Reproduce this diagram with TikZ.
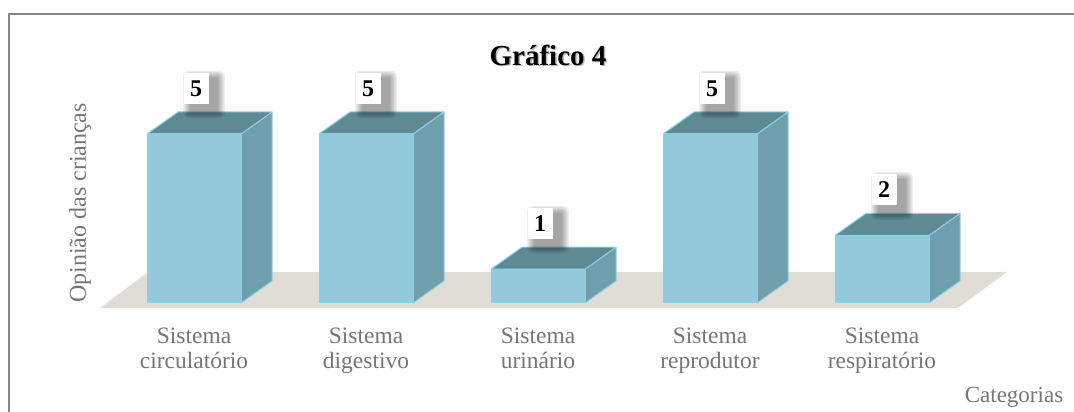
\documentclass[tikz,border=0pt]{standalone}
\usepackage{fontspec}
\setmainfont{Liberation Serif}
\usetikzlibrary{positioning}
\definecolor{barfront}{RGB}{146,202,219}
\definecolor{barside}{RGB}{111,159,173}
\definecolor{bartop}{RGB}{94,138,148}
\definecolor{baredge}{RGB}{140,208,228}
\definecolor{floorgray}{RGB}{224,221,215}
\definecolor{axisgray}{RGB}{118,118,118}
\definecolor{framegray}{RGB}{134,134,134}
\tikzset{
  bar face/.style={draw=baredge, line width=1pt, line join=round},
  value box/.style={fill=white, font=\fontsize{24}{24}\selectfont\bfseries,
    minimum width=25pt, minimum height=31pt, inner sep=0pt},
  cat label/.style={align=center, text=axisgray, font=\fontsize{23.5}{25}\selectfont},
}
\begin{document}
\begin{tikzpicture}[x=1pt,y=1pt]
  \useasboundingbox (0,0) rectangle (1074,412);
  % frame
  \draw[framegray, line width=1.5pt] (9,0) -- (9,398) -- (1074,398);
  % floor
  \fill[floorgray] (100,104) -- (958,104) -- (1007,140) -- (148,140) -- cycle;

  % bars, value boxes and category names
  \foreach \i/\v/\cat in {0/5/circulatório,1/5/digestivo,2/1/urinário,3/5/reprodutor,4/2/respiratório}{
    \pgfmathsetmacro\xl{147+172*\i}
    \pgfmathsetmacro\yt{109+33.8*\v}
    \filldraw[barside, bar face] (\xl+94,109) -- (\xl+125,131) -- (\xl+125,\yt+22) -- (\xl+94,\yt) -- cycle;
    \filldraw[bartop, bar face] (\xl,\yt) -- (\xl+94,\yt) -- (\xl+125,\yt+22) -- (\xl+31,\yt+22) -- cycle;
    \filldraw[barfront, bar face] (\xl,109) rectangle (\xl+94,\yt);
    % soft shadow of the value box
    \foreach \k in {1,...,6}
      \fill[black, opacity=0.07, rounded corners=\k pt]
        (\xl+49-12.5+8-1.4*\k,\yt+46.5-15.5-7-1.4*\k) rectangle (\xl+49+12.5+8+1.4*\k,\yt+46.5+15.5-7+1.4*\k);
    \node[value box] (val\i) at (\xl+49,\yt+45.5) {\v};
    \node[cat label, anchor=base] (cat\i) at (\xl+47,43) {Sistema\\\cat};
  }

  % titles
  \node[text=black!45, opacity=0.6, font=\fontsize{29}{29}\selectfont\bfseries] at (549.5,355.5) {Gráfico 4};
  \node[font=\fontsize{29}{29}\selectfont\bfseries] (title) at (548,357) {Gráfico 4};
  \node[rotate=90, text=axisgray, font=\fontsize{24}{24}\selectfont] (ytitle) at (80,209) {Opinião das crianças};
  \node[text=axisgray, font=\fontsize{23}{23}\selectfont, anchor=base] (xtitle) at (1014,9) {Categorias};
\end{tikzpicture}
\end{document}
